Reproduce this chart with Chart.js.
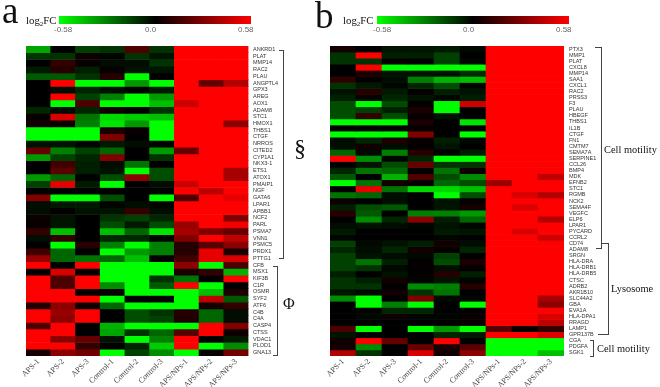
<!DOCTYPE html>
<html><head><meta charset="utf-8">
<style>
html,body{margin:0;padding:0;background:#fff;width:660px;height:387px;overflow:hidden}
canvas{position:absolute;top:0;filter:blur(0.35px)}
.t{position:absolute;white-space:nowrap;line-height:1;font-family:"Liberation Serif",serif;color:#111}
.s{font-family:"Liberation Sans",sans-serif;color:#666;font-size:8px}
.g{position:absolute;height:8px;top:15.5px;background:linear-gradient(to right,#00ff00,#000 50%,#ff0000)}
.b{position:absolute;background:#444}
sub{font-size:7px;line-height:0;vertical-align:-2px}
</style></head><body>
<canvas id="ca" width="330" height="387" style="left:0;width:330px;height:387px"></canvas>
<canvas id="cb" width="360" height="387" style="left:300px;width:360px;height:387px"></canvas>
<div class="t" style="left:2px;top:-8px;font-size:37px">a</div>
<div class="t" style="left:315px;top:-3px;font-size:37px">b</div>
<div class="t" style="left:26px;top:15px;font-size:10.8px">log<sub>2</sub>FC</div>
<div class="t" style="left:343px;top:15px;font-size:10.8px">log<sub>2</sub>FC</div>
<div class="g" style="left:59px;width:192px"></div>
<div class="g" style="left:377px;width:192px"></div>
<div class="t s" style="left:54px;top:26px">-0.58</div><div class="t s" style="left:145px;top:26px">0.0</div><div class="t s" style="left:238px;top:26px">0.58</div>
<div class="t s" style="left:373px;top:26px">-0.58</div><div class="t s" style="left:463px;top:26px">0.0</div><div class="t s" style="left:556px;top:26px">0.58</div>
<div class="b" style="left:279px;top:49.5px;width:5px;height:1px"></div>
<div class="b" style="left:283px;top:50px;width:1px;height:208px"></div>
<div class="b" style="left:279px;top:257.5px;width:5px;height:1px"></div>
<div class="b" style="left:273px;top:266px;width:5px;height:1px"></div>
<div class="b" style="left:277px;top:266px;width:1px;height:89px"></div>
<div class="b" style="left:273px;top:354.5px;width:5px;height:1px"></div>
<div class="t" style="left:294px;top:136px;font-size:24px">§</div>
<div class="t" style="left:283px;top:296px;font-size:16px">Φ</div>
<div class="b" style="left:595px;top:46.5px;width:7px;height:1px"></div>
<div class="b" style="left:601px;top:47px;width:1px;height:202px"></div>
<div class="b" style="left:596px;top:248px;width:6px;height:1px"></div>
<div class="b" style="left:601px;top:243px;width:8px;height:1px"></div>
<div class="b" style="left:608px;top:243px;width:1px;height:91px"></div>
<div class="b" style="left:598px;top:333.5px;width:11px;height:1px"></div>
<div class="b" style="left:590px;top:340px;width:4px;height:1px"></div>
<div class="b" style="left:593px;top:340px;width:1px;height:16px"></div>
<div class="b" style="left:590px;top:355.5px;width:4px;height:1px"></div>
<div class="t" style="left:604px;top:145px;font-size:10.4px">Cell motility</div>
<div class="t" style="left:611px;top:284px;font-size:10.4px">Lysosome</div>
<div class="t" style="left:597px;top:344px;font-size:10.4px">Cell motility</div>
<script src="https://cdn.jsdelivr.net/npm/chart.js@4"></script>
<script>
const columns = ["APS-1","APS-2","APS-3","Control-1","Control-2","Control-3","APS/NPs-1","APS/NPs-2","APS/NPs-3"];
const genesA = ["ANKRD1","PLAT","MMP14","RAC2","PLAU","ANGPTL4","GPX3","AREG","AOX1","ADAM8","STC1","HMOX1","THBS1","CTGF","NRROS","CITED2","CYP1A1","NKX3-1","ETS1","ATOX1","PMAIP1","NGF","GATA6","LPAR1","APBB1","NCF2","PARL","PSMA7","VNN1","PSMC5","PRDX1","PTTG1","CFB","MSX1","KIF3B","C1R","OSMR","SYF2","ATF6","C4B","C4A","CASP4","CTSS","VDAC1","PLOD1","GNA13"];
const genesB = ["PTX3","MMP1","PLAT","CXCL8","MMP14","SAA1","CXCL1","RAC2","PRSS3","F3","PLAU","HBEGF","THBS1","IL1B","CTGF","FN1","CMTM7","SEMA7A","SERPINE1","CCL26","BMP4","MDK","EFNB2","STC1","RGMB","NCK2","SEMA4F","VEGFC","ELP6","LPAR1","PYCARD","CCRL2","CD74","ADAM8","SRGN","HLA-DRA","HLA-DRB1","HLA-DRB5","CTSC","ADRB2","AKR1B10","SLC44A2","GBA","EVA1A","HLA-DPA1","RRAGD","LAMP1","GPR137B","CGA","PDGFA","SGK1"];
// log2FC values, expressed as a fraction of the ±0.58 colour range
const valuesA = [
[-.65,0,-.25,-.2,.3,-.2,1,1,1],
[-.2,-.2,.05,-.02,-.2,-.08,1,1,1],
[0,.2,.03,-.05,-.05,-.2,1,1,1],
[-.1,.15,-.12,.03,-.07,-.08,1,1,1],
[-.35,-.35,-.2,.15,-1,0,1,1,1],
[0,1,-1,-1,-.6,-1,1,.4,.7],
[0,-.05,-.15,-.05,.02,-.1,1,1,1],
[0,1,-.25,-.5,-1,-.6,1,1,1],
[0,-1,.3,-1,-1,-.75,.8,1,1],
[-.15,-.05,-.15,.07,.02,-.2,1,1,1],
[.03,.85,-.45,-.85,-.8,-.75,1,1,1],
[.08,.05,-.5,-.9,-.6,-1,1,1,.55],
[-1,-1,-1,.1,.03,-1,1,1,1],
[-1,-1,-1,.5,0,-1,1,1,1],
[-.07,-.07,-.02,-.1,-.05,-.02,1,1,1],
[.4,-.5,-.25,-.4,0,-.6,.4,1,1],
[-.6,-.25,-.15,.5,0,-.2,1,1,1],
[0,.25,-.12,-.05,-.45,0,1,1,1],
[0,.35,-.12,-.07,-1,-.3,1,1,.65],
[-.6,-.4,0,-.3,.55,-.3,1,1,.65],
[-.25,.9,-.1,-1,0,-.05,.8,1,1],
[0,0,0,0,0,0,1,.75,1],
[.5,-1,-1,-.3,0,-1,.3,1,.9],
[-.05,-.1,-.1,-.02,-.05,-.02,1,1,1],
[-.05,.02,-.07,-.07,.2,-.05,1,1,1],
[.05,-.08,0,-.2,-.25,-.15,1,1,.5],
[.03,-.08,0,-.3,-.1,-.3,.6,1,.95],
[.2,-.75,0,-.75,-.4,-.9,.65,.5,.4],
[-.05,.2,0,-.15,-.15,-.02,.5,1,.75],
[0,-1,.15,-.5,-1,-.5,.15,.35,.55],
[.25,-.4,0,-1,-.6,-.5,.15,.9,.1],
[.6,-.4,-.45,-.4,-.75,0,.25,.9,.85],
[1,0,1,-1,-1,-1,.55,-1,.3],
[0,.85,.02,-1,-1,-1,.1,.2,-.7],
[1,.3,1,-1,-1,-.2,-.45,.02,1],
[1,.3,1,-.55,-1,-.35,1,-1,0],
[1,1,.03,.03,-1,-1,-1,-.75,.12],
[1,1,1,-1,0,0,-1,.75,-.35],
[.12,.55,.05,-.4,-1,-1,-1,.08,.2],
[1,.6,1,0,-.3,-.2,.15,-.4,-.05],
[1,.55,1,0,-.3,-.25,.12,-.4,-.05],
[.3,1,0,-.7,-1,-1,-1,1,.5],
[1,1,0,-.65,-.2,-.4,.35,1,.05],
[1,.55,.4,-.07,-1,-.5,1,.02,-.1],
[1,1,.2,.02,-.15,-.8,1,-1,-.55],
[.08,.55,.45,-1,-.25,-.55,-1,.03,.45]];
const valuesB = [
[.08,0,-.08,-.08,-.1,-.03,1,1,1],
[-.2,1,-.12,-.12,-.25,0,1,1,1],
[-.2,-.2,.03,0,-.25,-.03,1,1,1],
[0,1,-1,-1,-1,-1,1,1,1],
[0,.12,-.07,-.08,-.07,-.18,1,1,1],
[.18,.02,-.05,-.5,-.7,-.75,1,1,1],
[-.2,-.1,-.02,-.15,-.3,-.02,1,1,1],
[-.07,.15,-.1,.02,-.12,-.07,1,1,1],
[-.12,-.02,-.15,-.07,-.02,-.12,1,1,1],
[-.3,-1,-.3,.02,-1,.8,1,1,1],
[-.3,-.25,-.12,.1,-1,0,1,1,1],
[-.3,.2,-.3,.03,-.07,0,1,1,1],
[-1,-1,-1,.1,0,-.9,1,1,1],
[0,0,0,.02,0,0,1,1,1],
[-1,-1,-1,.5,0,-1,1,1,1],
[-.05,-.15,.12,.03,-.12,-.03,1,1,1],
[-.05,.07,-.05,.02,-.07,0,1,1,1],
[-.4,-.03,-.5,.15,0,-.12,1,1,1],
[1,-.55,-.02,-.15,-1,-1,1,1,1],
[0,-.08,-.3,.4,-.2,-.2,1,1,1],
[-.15,-.45,-.4,.02,-.45,.05,1,1,1],
[-.35,0,-.7,.3,-.3,-.55,1,1,.75],
[-1,-.45,.07,.03,-.4,-.3,.6,1,1],
[0,.9,-.45,-.85,-.85,-.75,1,1,1],
[-.45,-.4,-.05,0,-1,-.3,1,.85,.7],
[.05,.01,-.05,0,-.07,.03,1,1,1],
[-.12,-.3,-.35,0,-.08,.08,1,.85,1],
[.15,-.35,0,-.5,-.5,-.6,1,1,1],
[0,-.55,-.15,.55,-.12,-.4,1,1,.7],
[-.05,-.07,-.05,-.02,-.07,-.02,1,1,1],
[-.1,0,0,0,-.1,-.08,1,.85,1],
[-.02,0,0,0,-.02,0,1,1,.8],
[-.25,-.03,-.07,-.12,.07,-.05,1,1,1],
[-.15,-.05,-.15,.07,.02,-.15,1,1,1],
[-.25,-.07,-.05,-.03,-.25,0,1,1,1],
[-.25,-.45,-.12,.02,-.3,.1,1,1,1],
[-.25,-.2,-.03,.01,-.05,.03,1,1,1],
[-.12,0,-.07,.01,.15,-.12,1,1,1],
[-.2,-.12,.07,-.02,-.08,-.02,1,1,1],
[-.2,-.2,0,-.55,-.5,.15,1,1,1],
[-.08,-.03,.08,-.2,-.45,0,1,1,1],
[-.55,-1,0,.5,-.03,-.03,1,1,.65],
[0,-1,-.5,-1,0,-1,1,1,.55],
[0,-.02,-.15,-.15,0,0,1,1,1],
[0,-.03,.05,-.02,-.02,.03,1,1,.85],
[0,0,0,0,0,.03,1,1,.75],
[.3,-1,0,-1,-.6,-1,.35,.03,.2],
[-.08,0,0,0,-.15,-.1,1,1,.85],
[.05,1,.4,0,1,0,-1,-1,-1],
[.08,-.55,0,.4,.1,.35,-1,-1,-1],
[.7,-.2,0,.85,.07,.55,-1,-1,-.75]];

function heatColor(v){
  const c = Math.round(255*Math.min(1,Math.abs(v)));
  return v>=0 ? `rgb(${c},0,0)` : `rgb(0,${c},0)`;
}
function heatmap(id, genes, values, pad, labelPad, axisW){
  new Chart(document.getElementById(id),{
    type:'bar',
    data:{labels:columns,datasets:genes.map((g,r)=>({
      label:g,
      data:columns.map(()=>[r,r+1]),
      backgroundColor:values[r].map(heatColor),
      grouped:false,barPercentage:1,categoryPercentage:1,borderWidth:0
    }))},
    options:{
      responsive:false,animation:false,
      layout:{padding:pad},
      plugins:{legend:{display:false},tooltip:{enabled:false}},
      scales:{
        x:{offset:true,grid:{display:false,drawTicks:false},border:{display:false},
           afterFit(s){s.height=31;s.paddingLeft=0;s.paddingRight=0;},
           ticks:{autoSkip:false,maxRotation:45,minRotation:45,padding:1,
                  font:{family:'"Liberation Serif",serif',size:8},color:'#444'}},
        y:{display:false,min:0,max:genes.length,reverse:true},
        yg:{type:'category',axis:'y',position:'right',labels:genes,offset:true,display:true,
            grid:{display:false,drawTicks:false},border:{display:false},
            afterFit(s){s.width=axisW;s.paddingTop=0;s.paddingBottom=0;},
            ticks:{autoSkip:false,padding:labelPad,
                   font:{family:'"Liberation Sans",sans-serif',size:5.5},color:'#333'}}
      }
    }
  });
}
heatmap('ca',genesA,valuesA,{left:26,top:46,right:41.5,bottom:0},4.5,40);
heatmap('cb',genesB,valuesB,{left:30,top:46,right:56,bottom:0},5,40);
</script>
</body></html>
